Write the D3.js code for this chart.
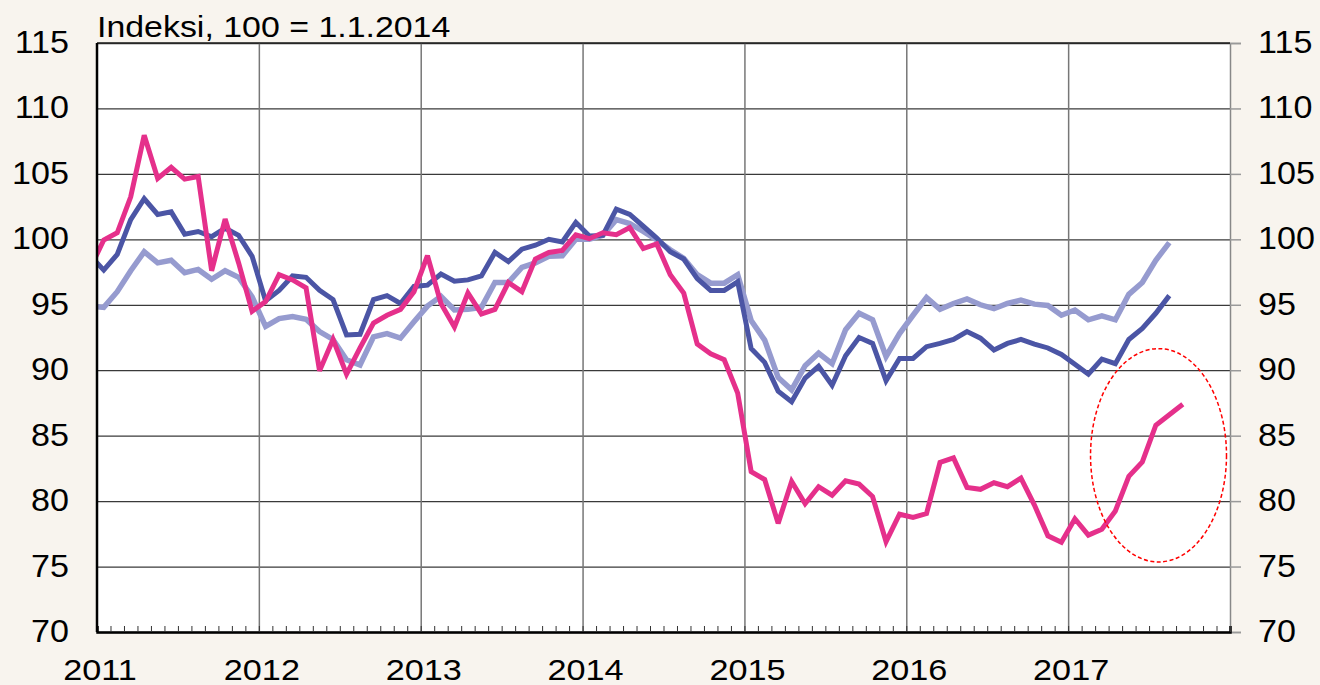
<!DOCTYPE html>
<html>
<head>
    <script src="https://cdnjs.cloudflare.com/ajax/libs/d3/7.8.5/d3.min.js"></script>
    <style>
        body {
            margin: 0;
            background-color: #f8f4ee;
            font-family: "Liberation Sans", Arial, sans-serif;
        }
        svg { display: block; }
    </style>
</head>
<body>
    <svg id="chart" width="1320" height="685"></svg>
    <script>
        // months counted from Jan 2011 (index -1 = Dec 2010, clipped at the left edge)
        const yearLabels = ["2011", "2012", "2013", "2014", "2015", "2016", "2017"];
        const yTicks = [70, 75, 80, 85, 90, 95, 100, 105, 110, 115];

        const darkBlue = [98.75, 97.65, 98.85, 101.5, 103.1, 101.9, 102.1, 100.4, 100.6, 100.2, 100.85, 100.3, 98.7,
            95.3, 96.1, 97.2, 97.1, 96.1, 95.4, 92.7, 92.75, 95.4, 95.7, 95.1, 96.4,
            96.5, 97.35, 96.8, 96.9, 97.2, 99.0, 98.3, 99.25, 99.55, 100.0, 99.8, 101.3,
            100.25, 100.3, 102.3, 101.9, 101.0, 100.1, 99.05, 98.5, 97.0, 96.1, 96.1, 96.75,
            91.65, 90.6, 88.4, 87.6, 89.4, 90.3, 88.85, 91.1, 92.5, 92.05, 89.2, 90.9,
            90.9, 91.8, 92.05, 92.35, 92.95, 92.45, 91.55, 92.05, 92.35, 92.0, 91.7, 91.2,
            90.45, 89.7, 90.85, 90.5, 92.35, 93.2, 94.35, 95.7];

        const lightBlue = [94.9, 94.8, 96.0, 97.6, 99.05, 98.2, 98.4, 97.45, 97.7, 96.95, 97.6, 97.1, 95.6,
            93.35, 93.95, 94.1, 93.9, 92.95, 92.35, 90.8, 90.4, 92.55, 92.8, 92.45, 93.7,
            94.9, 95.65, 94.6, 94.65, 94.8, 96.7, 96.7, 97.85, 98.2, 98.7, 98.75, 100.0,
            100.0, 100.3, 101.5, 101.2, 100.6, 99.95, 99.2, 98.55, 97.3, 96.65, 96.65, 97.3,
            93.8, 92.3, 89.45, 88.5, 90.35, 91.3, 90.5, 93.1, 94.35, 93.85, 91.05, 92.8,
            94.2, 95.55, 94.65, 95.1, 95.45, 95.0, 94.7, 95.1, 95.35, 95.05, 94.95, 94.2,
            94.6, 93.85, 94.15, 93.85, 95.8, 96.7, 98.4, 99.75];

        const pink = [97.8, 99.95, 100.5, 103.25, 107.95, 104.65, 105.5, 104.6, 104.8, 97.6, 101.55, 98.2, 94.5,
            95.25, 97.3, 96.9, 96.3, 89.95, 92.35, 89.7, 91.7, 93.6, 94.2, 94.65, 96.0,
            98.75, 95.1, 93.3, 95.9, 94.3, 94.65, 96.7, 96.0, 98.5, 99.0, 99.15, 100.35,
            100.05, 100.5, 100.35, 100.9, 99.3, 99.65, 97.3, 95.9, 92.0, 91.25, 90.8, 88.25,
            82.25, 81.65, 78.3, 81.5, 79.8, 81.1, 80.45, 81.55, 81.3, 80.35, 76.9, 79.0,
            78.75, 79.05, 82.95, 83.3, 81.05, 80.9, 81.4, 81.1, 81.75, 79.7, 77.35, 76.85,
            78.65, 77.4, 77.85, 79.25, 81.9, 83.0, 85.8, 86.6, 87.4];

        const series = [
            { values: lightBlue, color: "#969bcf", width: 5.5 },
            { values: darkBlue, color: "#4b55a5", width: 5 },
            { values: pink, color: "#e5308b", width: 5 }
        ];

        const margin = { top: 43, right: 90, bottom: 53, left: 97 };
        const W = 1320, H = 685;
        const width = W - margin.left - margin.right;
        const height = H - margin.top - margin.bottom;

        const svg = d3.select("#chart");
        const g = svg.append("g").attr("transform", `translate(${margin.left},${margin.top})`);

        const x = d3.scaleLinear().domain([0, 84]).range([0, width]);
        const y = d3.scaleLinear().domain([70, 115]).range([height, 0]);

        svg.append("defs").append("clipPath").attr("id", "plot-clip")
            .append("rect").attr("width", width).attr("height", height);

        // plot background
        g.append("rect").attr("width", width).attr("height", height).attr("fill", "#ffffff");

        // horizontal grid
        g.append("g")
            .call(d3.axisLeft(y).tickValues(yTicks).tickSize(-width).tickFormat(""))
            .call(s => s.select(".domain").remove())
            .call(s => s.selectAll("line").attr("stroke", "#3a3a3a").attr("stroke-width", 1.3));

        // vertical year lines
        g.append("g")
            .attr("transform", `translate(0,${height})`)
            .call(d3.axisBottom(x).tickValues(d3.range(12, 84, 12)).tickSize(height).tickFormat(""))
            .call(s => s.select(".domain").remove())
            .call(s => s.selectAll("line").attr("transform", `translate(0,${-height})`)
                .attr("y2", height).attr("stroke", "#777").attr("stroke-width", 1.5));

        // right border + outward ticks
        g.append("g")
            .attr("transform", `translate(${width},0)`)
            .call(d3.axisRight(y).tickValues(yTicks).tickSize(11).tickFormat(""))
            .call(s => s.select(".domain").attr("stroke", "#888").attr("stroke-width", 1.5))
            .call(s => s.selectAll(".tick line").attr("stroke", "#999").attr("stroke-width", 1.5));

        // lines
        const line = d3.line()
            .x((d, i) => x(i - 1 + 0.5))
            .y(d => y(d));

        const lines = g.append("g").attr("clip-path", "url(#plot-clip)");
        series.forEach(s => {
            lines.append("path")
                .datum(s.values)
                .attr("d", line)
                .attr("fill", "none")
                .attr("stroke", s.color)
                .attr("stroke-width", s.width)
                .attr("stroke-linejoin", "miter")
                .attr("stroke-miterlimit", 3);
        });

        // top border
        g.append("line").attr("x1", 0).attr("x2", width).attr("y1", 0).attr("y2", 0)
            .attr("stroke", "#222").attr("stroke-width", 1.5);

        // bottom axis with monthly minor ticks pointing up
        g.append("g")
            .attr("transform", `translate(0,${height})`)
            .call(d3.axisBottom(x).tickValues(d3.range(0, 85)).tickSize(-6).tickFormat(""))
            .call(s => s.select(".domain").attr("stroke", "#000").attr("stroke-width", 2.5))
            .call(s => s.selectAll(".tick line").attr("stroke", "#333").attr("stroke-width", 1));

        // left axis line
        g.append("line").attr("x1", 0).attr("x2", 0).attr("y1", 0).attr("y2", height)
            .attr("stroke", "#000").attr("stroke-width", 2.5);

        // annotation ellipse
        g.append("ellipse")
            .attr("cx", x(78.7))
            .attr("cy", y(83.5))
            .attr("rx", x(5.04) - x(0))
            .attr("ry", y(75.35) - y(83.5))
            .attr("fill", "none")
            .attr("stroke", "#ff0000")
            .attr("stroke-width", 1.5)
            .attr("stroke-dasharray", "4,2.5");

        // tick labels
        const textStyle = sel => sel.attr("fill", "#000").style("font-size", "31px");

        svg.append("g").selectAll("text")
            .data(yTicks).join("text")
            .attr("transform", d => `translate(69,${margin.top + y(d) + 10}) scale(1.1,1)`)
            .attr("text-anchor", "end")
            .call(textStyle)
            .text(d => d);

        svg.append("g").selectAll("text")
            .data(yTicks).join("text")
            .attr("transform", d => `translate(1258,${margin.top + y(d) + 10}) scale(1.1,1)`)
            .attr("text-anchor", "start")
            .call(textStyle)
            .text(d => d);

        svg.append("g").selectAll("text")
            .data(yearLabels).join("text")
            .attr("transform", (d, i) => `translate(${margin.left + x(i * 12) + 3},680) scale(1.18,1)`)
            .attr("text-anchor", "middle")
            .call(textStyle)
            .style("font-size", "29px")
            .text(d => d);

        svg.append("text")
            .attr("transform", "translate(97,36.5) scale(1.13,1)")
            .attr("fill", "#000")
            .style("font-size", "30px")
            .text("Indeksi, 100 = 1.1.2014");
    </script>
</body>
</html>
